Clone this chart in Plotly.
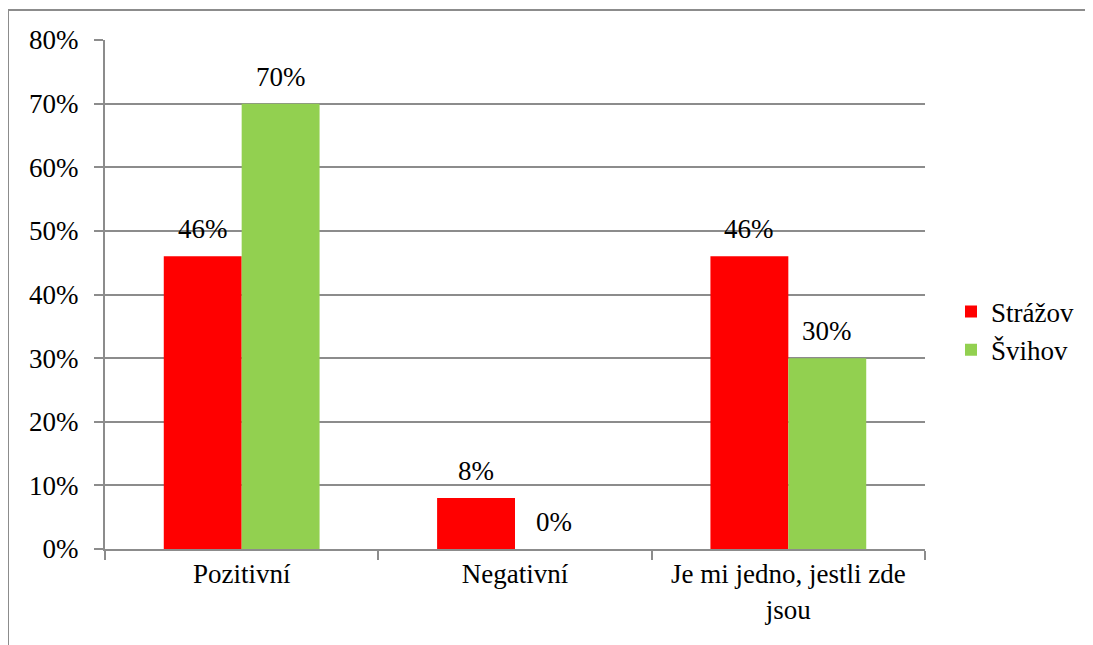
import plotly.graph_objects as go

categories = ["Pozitivní", "Negativní", "Je mi jedno, jestli zde<br>jsou"]
strazov = [0.46, 0.08, 0.46]
svihov = [0.70, 0.00, 0.30]
series_names = ["Strážov", "Švihov"]
colors = ["#FF0000", "#92D050"]
ytick_vals = [0, 0.1, 0.2, 0.3, 0.4, 0.5, 0.6, 0.7, 0.8]
ytick_text = ["0%", "10%", "20%", "30%", "40%", "50%", "60%", "70%", "80%"]

FONT = "Liberation Serif, Times New Roman, serif"
FS = 27
GRID = "#8C8C8C"
BAR_PX = 78

fig = go.Figure()
annotations = []
for j, (name, vals, col) in enumerate(zip(series_names, [strazov, svihov], colors)):
    fig.add_trace(go.Bar(
        x=categories, y=vals, name=name, marker=dict(color=col, line=dict(width=0)),
    ))
    for cat, v in zip(categories, vals):
        annotations.append(dict(
            x=cat, y=v, xref="x", yref="y", text=f"{round(v*100)}%",
            showarrow=False, yanchor="bottom", xanchor="center",
            xshift=(j - 0.5) * BAR_PX, yshift=10,
            font=dict(family=FONT, size=FS, color="black"),
        ))

OFF = 8
W, H = 1093, 645
ml, mt = 105 - OFF, 40 - OFF
mr = W - (925 - OFF)
mb = H - (549 - OFF)
pw, ph = W - ml - mr, H - mt - mb

def px2x(p):
    return (p - OFF - ml) / pw

def py2y(p):
    return (H - mb - (p - OFF)) / ph

fig.update_layout(
    width=W, height=H,
    margin=dict(l=ml, r=mr, t=mt, b=mb, pad=0, autoexpand=False),
    paper_bgcolor="white", plot_bgcolor="white",
    barmode="group", bargap=0.43, bargroupgap=0,
    font=dict(family=FONT, size=FS, color="black"),
    showlegend=True,
    legend=dict(x=px2x(951), y=py2y(331), xanchor="left", yanchor="middle",
                font=dict(family=FONT, size=FS, color="black"),
                bgcolor="rgba(0,0,0,0)", itemsizing="constant", tracegroupgap=14),
    annotations=annotations,
    shapes=[dict(type="rect", xref="paper", yref="paper",
                 x0=px2x(8), x1=px2x(1110), y0=py2y(700), y1=py2y(10),
                 line=dict(color="#8C8C8C", width=2), fillcolor="rgba(0,0,0,0)",
                 layer="below")],
)
fig.update_yaxes(
    range=[0, 0.8], tickvals=ytick_vals, ticktext=ytick_text,
    showgrid=True, gridcolor=GRID, gridwidth=2,
    showline=True, linecolor=GRID, linewidth=2,
    ticks="outside", ticklen=9, tickcolor=GRID, tickwidth=2,
    ticklabelstandoff=10,
    tickfont=dict(family=FONT, size=FS, color="black"), zeroline=False,
)
fig.update_xaxes(
    showline=True, linecolor=GRID, linewidth=2,
    ticks="outside", ticklen=9, tickcolor=GRID, tickwidth=2,
    tickson="boundaries", showgrid=False,
    tickfont=dict(family=FONT, size=FS, color="black"),
)
fig.write_html("out.html")
